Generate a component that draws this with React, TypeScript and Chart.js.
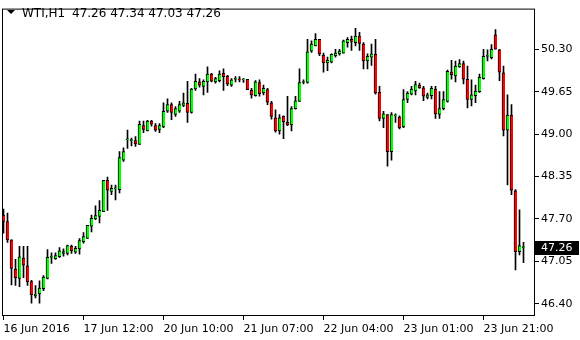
import React, { useEffect, useRef } from "react";
import { Chart, registerables } from "chart.js";

Chart.register(...registerables);

const symbol = "WTI,H1";

const opens = [
  47.76, 47.66, 47.38, 46.93, 46.79, 47.10, 46.98, 46.74, 46.52, 46.55,
  46.63, 46.79, 47.11, 47.09, 47.12, 47.17, 47.17, 47.28, 47.19, 47.24,
  47.35, 47.40, 47.59, 47.70, 47.74, 47.81, 48.29, 48.12, 48.16, 48.15,
  48.60, 48.91, 48.90, 48.90, 48.84, 49.13, 49.05, 49.20, 49.13, 49.07,
  49.11, 49.35, 49.45, 49.30, 49.35, 49.44, 49.47, 49.33, 49.69, 49.80,
  49.73, 49.80, 49.92, 49.80, 49.82, 49.93, 49.89, 49.75, 49.84, 49.84,
  49.83, 49.84, 49.67, 49.59, 49.79, 49.63, 49.68, 49.48, 49.25, 49.05,
  49.27, 49.18, 49.14, 49.39, 49.50, 49.79, 49.79, 50.27, 50.35, 50.45,
  50.21, 50.09, 50.10, 50.20, 50.23, 50.24, 50.40, 50.45, 50.40, 50.50,
  50.38, 50.12, 50.18, 50.22, 49.64, 49.24, 49.30, 48.73, 49.28, 49.26,
  49.11, 49.53, 49.61, 49.66, 49.75, 49.71, 49.56, 49.59, 49.69, 49.30,
  49.39, 49.50, 49.95, 49.89, 50.03, 50.08, 49.84, 49.53, 49.59, 49.65,
  49.85, 50.19, 50.17, 50.52, 50.29, 49.94, 49.06, 49.29, 48.13, 47.20,
  47.26,
];
const highs = [
  47.85, 47.79, 47.38, 47.08, 47.28, 47.28, 47.28, 46.76, 46.68, 46.75,
  46.83, 47.23, 47.18, 47.18, 47.26, 47.24, 47.30, 47.30, 47.28, 47.40,
  47.49, 47.60, 47.76, 47.90, 47.98, 48.29, 48.34, 48.22, 48.22, 48.73,
  48.79, 49.06, 48.94, 48.96, 49.20, 49.20, 49.21, 49.21, 49.16, 49.16,
  49.48, 49.54, 49.48, 49.42, 49.50, 49.63, 49.81, 49.70, 49.92, 49.85,
  49.83, 50.03, 49.93, 49.87, 49.97, 50.00, 49.90, 49.85, 49.88, 49.88,
  49.85, 49.84, 49.70, 49.82, 49.83, 49.75, 49.70, 49.50, 49.37, 49.30,
  49.28, 49.58, 49.42, 49.58, 50.00, 49.83, 50.45, 50.43, 50.54, 50.45,
  50.24, 50.18, 50.23, 50.30, 50.30, 50.44, 50.48, 50.50, 50.62, 50.56,
  50.40, 50.23, 50.38, 50.45, 49.73, 49.35, 49.30, 49.33, 49.31, 49.28,
  49.68, 49.65, 49.73, 49.81, 49.78, 49.73, 49.63, 49.73, 49.73, 49.65,
  49.65, 49.98, 50.13, 50.12, 50.14, 50.12, 50.04, 49.83, 49.75, 49.92,
  50.30, 50.29, 50.37, 50.60, 50.30, 50.04, 49.60, 49.45, 48.15, 47.84,
  47.34,
];
const lows = [
  47.48, 47.34, 46.69, 46.68, 46.66, 46.80, 46.68, 46.41, 46.49, 46.41,
  46.60, 46.78, 47.02, 47.08, 47.11, 47.13, 47.15, 47.17, 47.17, 47.16,
  47.33, 47.40, 47.50, 47.69, 47.64, 47.81, 47.83, 48.07, 47.99, 48.10,
  48.58, 48.78, 48.82, 48.81, 48.84, 49.02, 49.05, 49.12, 49.04, 49.02,
  49.10, 49.33, 49.22, 49.27, 49.33, 49.42, 49.18, 49.32, 49.67, 49.72,
  49.60, 49.64, 49.80, 49.78, 49.80, 49.67, 49.74, 49.73, 49.80, 49.80,
  49.79, 49.68, 49.55, 49.58, 49.58, 49.60, 49.45, 49.23, 49.03, 49.00,
  48.93, 49.13, 49.05, 49.38, 49.50, 49.77, 49.78, 50.25, 50.35, 50.20,
  49.95, 49.97, 50.09, 50.18, 50.21, 50.24, 50.33, 50.28, 50.35, 50.28,
  50.00, 50.00, 50.05, 49.61, 49.20, 49.10, 48.51, 48.60, 49.18, 49.08,
  49.10, 49.48, 49.60, 49.60, 49.70, 49.51, 49.54, 49.54, 49.24, 49.24,
  49.37, 49.49, 49.84, 49.80, 50.02, 49.77, 49.40, 49.43, 49.48, 49.64,
  49.84, 50.12, 50.15, 50.30, 49.82, 48.97, 48.22, 48.07, 46.92, 47.15,
  47.03,
];
const closes = [
  47.66, 47.38, 46.94, 46.80, 47.12, 46.99, 46.74, 46.54, 46.55, 46.64,
  46.81, 47.11, 47.12, 47.14, 47.21, 47.20, 47.29, 47.21, 47.25, 47.37,
  47.43, 47.60, 47.71, 47.75, 47.83, 48.29, 48.14, 48.17, 48.16, 48.64,
  48.73, 48.92, 48.90, 48.85, 49.15, 49.07, 49.20, 49.15, 49.06, 49.13,
  49.35, 49.45, 49.33, 49.39, 49.45, 49.48, 49.33, 49.69, 49.81, 49.75,
  49.81, 49.92, 49.81, 49.85, 49.92, 49.88, 49.77, 49.83, 49.84, 49.83,
  49.83, 49.68, 49.60, 49.80, 49.62, 49.70, 49.49, 49.27, 49.05, 49.25,
  49.19, 49.14, 49.39, 49.51, 49.79, 49.79, 50.26, 50.38, 50.45, 50.23,
  50.09, 50.13, 50.22, 50.24, 50.27, 50.43, 50.45, 50.42, 50.50, 50.39,
  50.12, 50.19, 50.23, 49.63, 49.24, 49.31, 48.73, 49.30, 49.28, 49.10,
  49.53, 49.63, 49.69, 49.76, 49.71, 49.58, 49.60, 49.70, 49.31, 49.39,
  49.53, 49.96, 49.91, 50.04, 50.08, 49.84, 49.53, 49.60, 49.66, 49.87,
  50.19, 50.19, 50.30, 50.30, 49.95, 49.06, 49.29, 48.14, 47.20, 47.29,
  47.26,
];

const xTickIndex = [0, 20, 40, 60, 80, 100, 120];
const xTickLabels = [
  "16 Jun 2016",
  "17 Jun 12:00",
  "20 Jun 10:00",
  "21 Jun 07:00",
  "22 Jun 04:00",
  "23 Jun 01:00",
  "23 Jun 21:00",
];
const yTicks = [46.4, 47.05, 47.7, 48.35, 49.0, 49.65, 50.3];

const BULL = "#00ff00";
const BEAR = "#ff0000";
const FONT = "DejaVu Sans";

export default function App() {
  const ref = useRef<HTMLCanvasElement>(null);

  useEffect(() => {
    const canvas = ref.current;
    if (!canvas) return;
    const idx = opens.map((_, i) => i);
    const last = opens.length - 1;

    const overlay = {
      id: "overlay",
      afterDraw(chart: any) {
        const ctx = chart.ctx;
        const { left, top, right, bottom } = chart.chartArea;
        ctx.save();
        ctx.strokeStyle = "#000";
        ctx.lineWidth = 1;
        ctx.strokeRect(left + 0.5, top + 0.5, right - left - 1, bottom - top - 1);

        // header
        ctx.fillStyle = "#000";
        ctx.beginPath();
        ctx.moveTo(7, 10);
        ctx.lineTo(15, 10);
        ctx.lineTo(11, 14);
        ctx.closePath();
        ctx.fill();
        ctx.font = `12px "${FONT}"`;
        ctx.textAlign = "left";
        ctx.textBaseline = "alphabetic";
        ctx.fillText(symbol, 22, 17);
        ctx.fillText(
          [opens[last], highs[last], lows[last], closes[last]]
            .map((v) => v.toFixed(2))
            .join(" "),
          72,
          17
        );

        // current price box
        const yy = Math.round(chart.scales.y.getPixelForValue(closes[last]));
        ctx.fillStyle = "#000";
        ctx.fillRect(right, yy - 7, 44, 14);
        ctx.fillStyle = "#fff";
        ctx.font = `11px "${FONT}"`;
        ctx.textBaseline = "middle";
        ctx.fillText(closes[last].toFixed(2), right + 6, yy);
        ctx.restore();
      },
    };

    const chart = new Chart(canvas, {
      type: "bar",
      data: {
        datasets: [
          {
            label: "body",
            data: idx.map((i) => ({ x: i, y: [opens[i], closes[i]] })),
            backgroundColor: idx.map((i) => (closes[i] >= opens[i] ? BULL : BEAR)),
            borderColor: "#000",
            borderWidth: { left: 1, right: 0, top: 1, bottom: 1 },
            borderSkipped: false,
            barThickness: 3,
            minBarLength: 1,
            grouped: false,
            order: 0,
          } as any,
          {
            label: "wick",
            data: idx.map((i) => ({ x: i, y: [lows[i], highs[i]] })),
            backgroundColor: "#000",
            borderWidth: 0,
            barThickness: 1,
            grouped: false,
            order: 1,
          } as any,
        ],
      },
      options: {
        responsive: false,
        animation: false,
        devicePixelRatio: 1,
        events: [],
        layout: { padding: { left: 2, top: 2, right: 0, bottom: 0 } },
        plugins: {
          legend: { display: false },
          tooltip: { enabled: false },
          title: { display: false },
        },
        scales: {
          x: {
            type: "linear",
            offset: false,
            min: -0.375,
            max: 132.875,
            afterBuildTicks: (s: any) => {
              s.ticks = xTickIndex.map((v) => ({ value: v }));
            },
            afterFit: (s: any) => {
              s.height = 24;
            },
            grid: {
              drawOnChartArea: false,
              drawTicks: true,
              tickLength: 4,
              color: "#000",
              offset: false,
            },
            border: { display: false },
            ticks: {
              autoSkip: false,
              maxRotation: 0,
              minRotation: 0,
              align: "start",
              padding: 3,
              color: "#000",
              font: { family: FONT, size: 11 },
              callback: (v: any) => {
                const k = xTickIndex.indexOf(Number(v));
                return k >= 0 ? xTickLabels[k] : "";
              },
            },
          },
          y: {
            type: "linear",
            position: "right",
            beginAtZero: false,
            min: 46.2125,
            max: 50.9225,
            afterBuildTicks: (s: any) => {
              s.ticks = yTicks.map((v) => ({ value: v }));
            },
            afterFit: (s: any) => {
              s.width = 45;
            },
            grid: {
              drawOnChartArea: false,
              drawTicks: true,
              tickLength: 4,
              color: "#000",
            },
            border: { display: false },
            ticks: {
              padding: 2,
              color: "#000",
              font: { family: FONT, size: 11 },
              callback: (v: any) => Number(v).toFixed(2),
            },
          },
        },
      } as any,
      plugins: [overlay],
    });

    return () => chart.destroy();
  }, []);

  return (
    <div
      style={{
        position: "absolute",
        left: 0,
        top: 0,
        width: 580,
        height: 340,
        background: "#fff",
      }}
    >
      <canvas
        ref={ref}
        width={580}
        height={340}
        style={{ display: "block", width: 580, height: 340 }}
      />
    </div>
  );
}
